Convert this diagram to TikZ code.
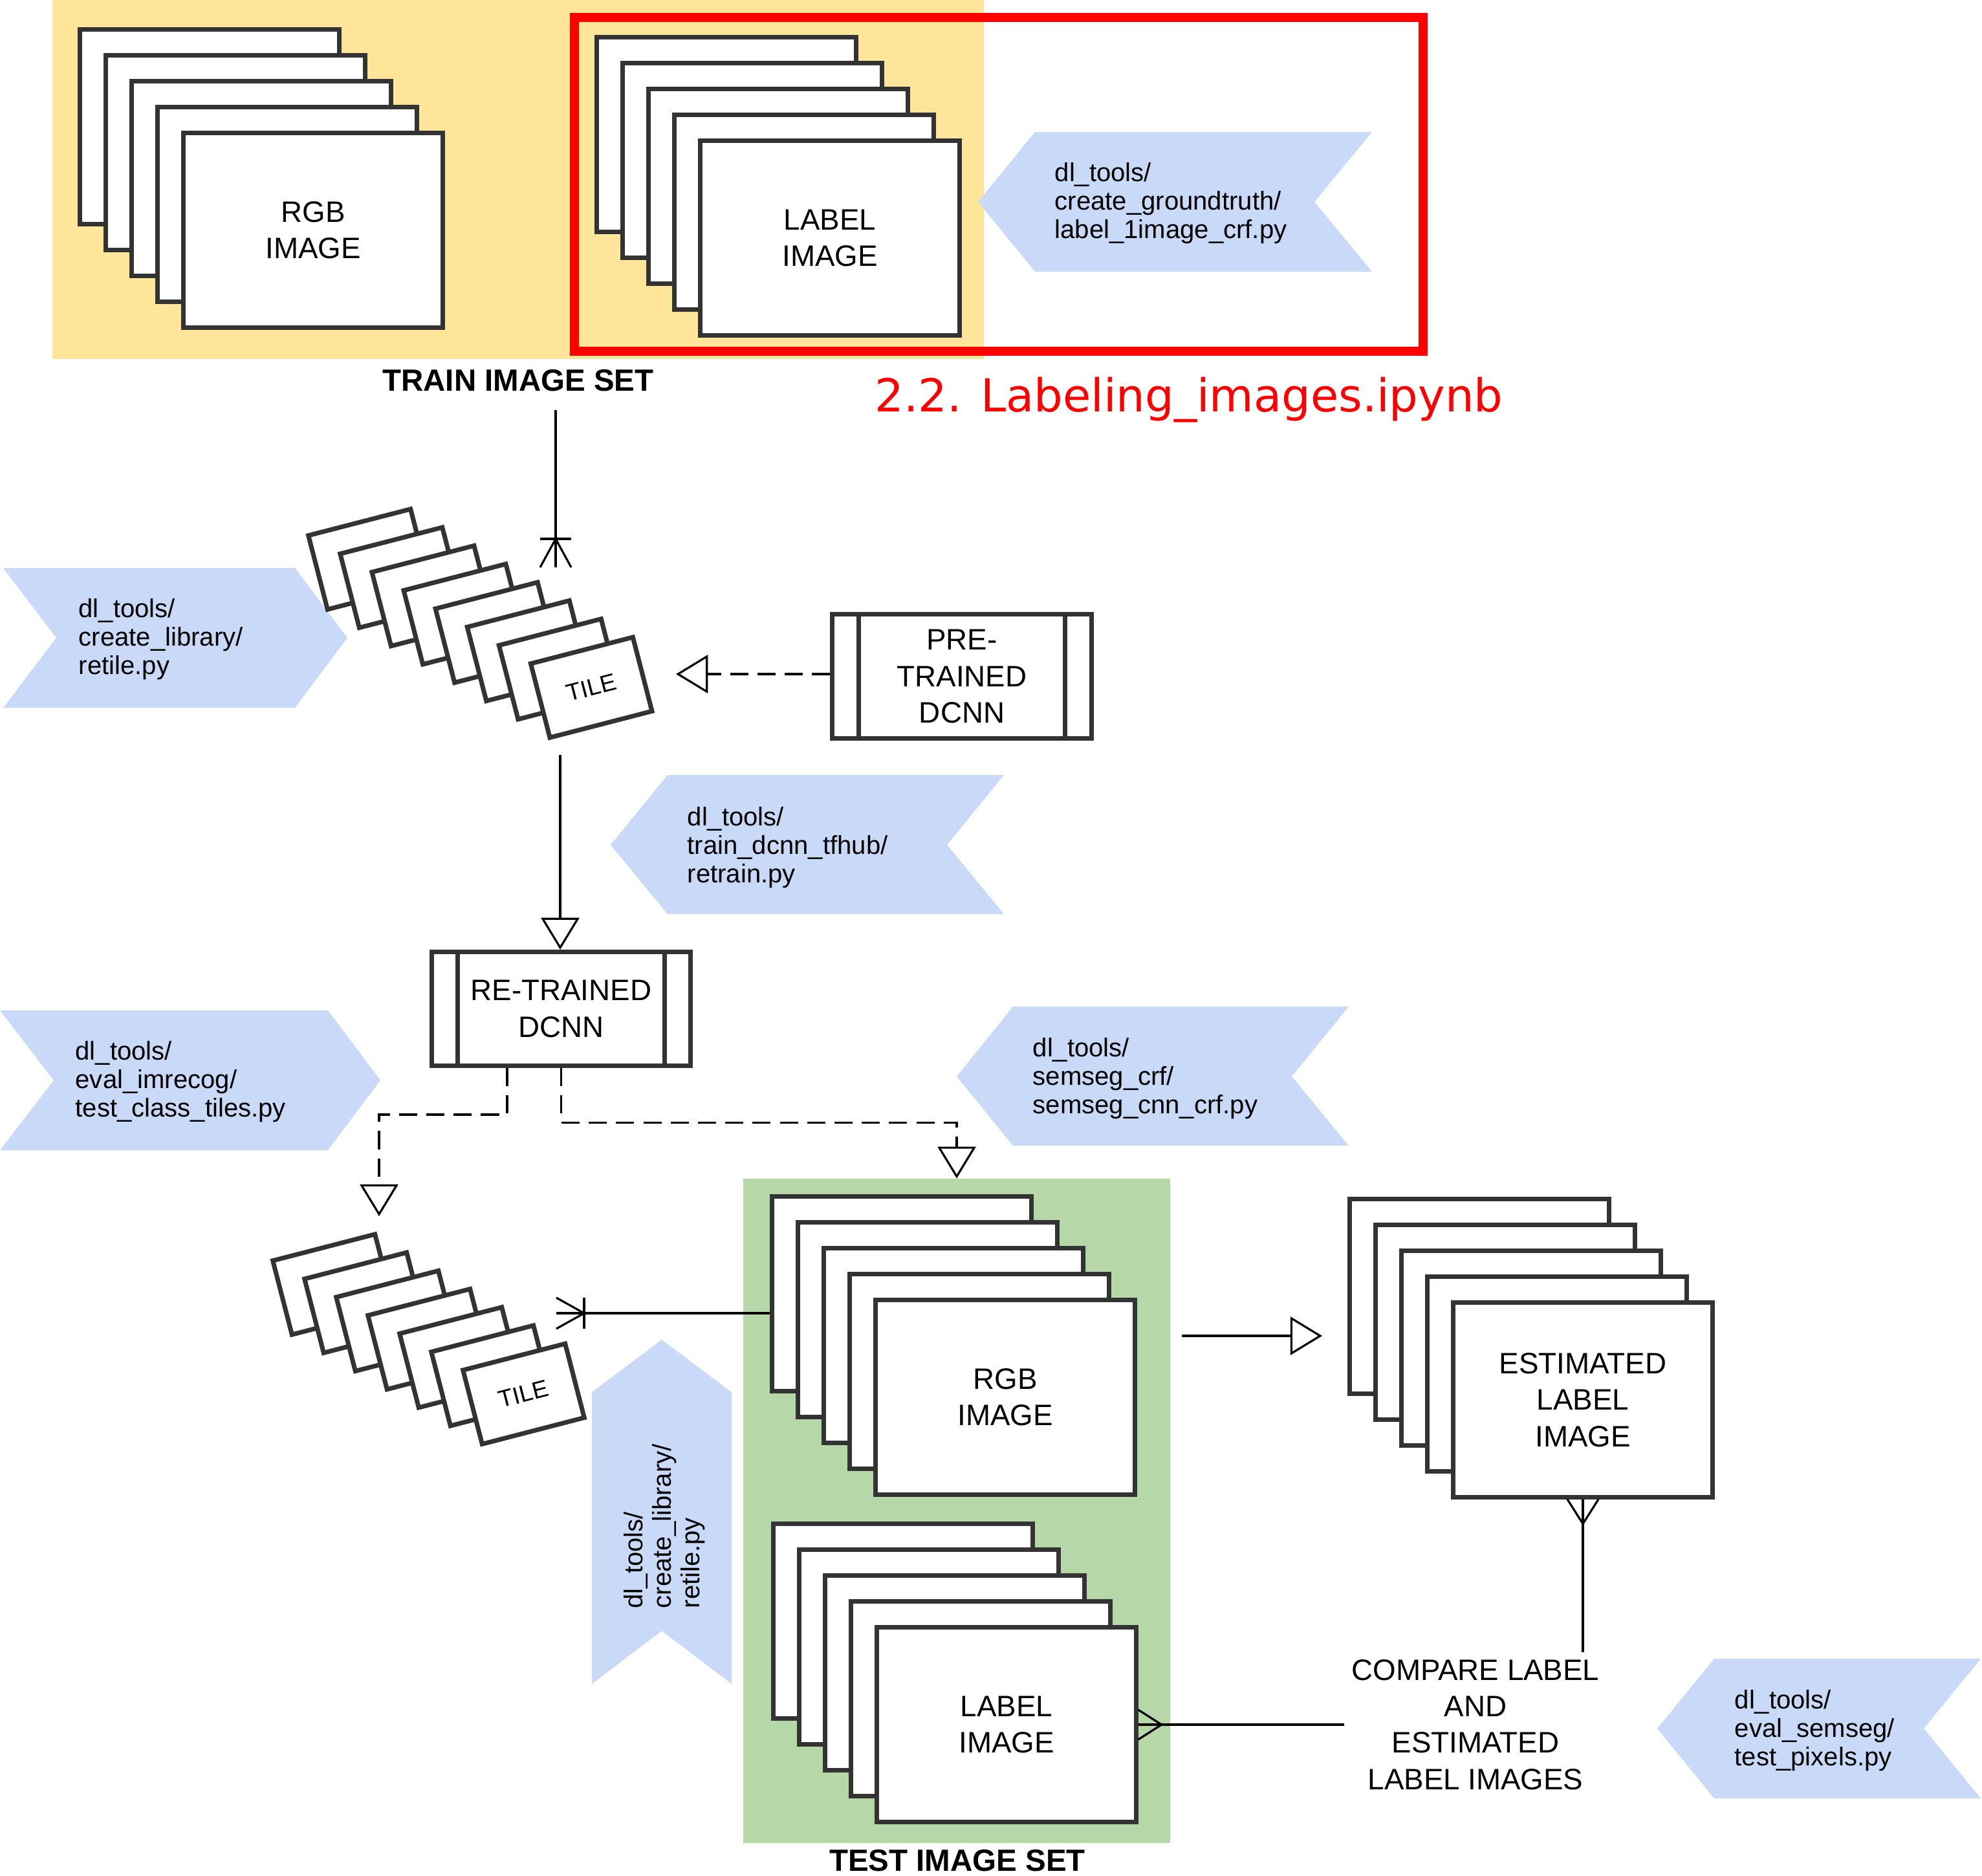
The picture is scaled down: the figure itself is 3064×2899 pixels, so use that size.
\documentclass[tikz,border=0pt]{standalone}
\usepackage{fontspec}
\setmainfont{Liberation Sans}
\newfontfamily\notefont{DejaVu Sans}
\usetikzlibrary{arrows.meta}

\definecolor{framegray}{HTML}{333333}
\definecolor{trainyellow}{HTML}{FFE599}
\definecolor{testgreen}{HTML}{B6D7A8}
\definecolor{toolblue}{HTML}{C9DAF8}

\begin{document}
\begin{tikzpicture}[line join=miter,x=0.01cm,y=-0.01cm,
  frame/.style={draw=framegray,fill=white,line width=2pt,minimum width=4cm,minimum height=3cm,inner sep=0pt,align=center,font=\fontsize{13}{16}\selectfont},
  tile/.style={draw=framegray,fill=white,line width=2pt,minimum width=1.63cm,minimum height=1.18cm,inner sep=0pt,rotate=14.5,font=\fontsize{10.5}{12}\selectfont},
  dcnn/.style={draw=framegray,fill=white,line width=2pt,minimum width=4cm,inner sep=0pt,align=center,font=\fontsize{13}{16}\selectfont},
  chev/.style={fill=toolblue},
  tooltext/.style={anchor=west,align=left,inner sep=0pt,font=\fontsize{11.4}{12.6}\selectfont},
  conn/.style={line width=0.9pt},
  flow/.style={conn,-{Triangle[open,length=14pt,width=16.8pt]}},
  ctrl/.style={flow,dash pattern=on 8pt off 4pt}]

\useasboundingbox (0,0) rectangle (3064,2899);

% image sets
\node[fill=trainyellow,minimum width=14.4cm,minimum height=5.55cm,inner sep=0pt,outer sep=0pt] (trainset) at (801,277.5) {};
\draw[red,line width=4pt] (888,27) rectangle (2200,543);
\node[fill=testgreen,minimum width=6.6cm,minimum height=10.27cm,inner sep=0pt,outer sep=0pt] (testset) at (1479,2335.5) {};

% script chevrons
\fill[chev] (1512,312) -- (1600,204) -- (2121,204) -- (2032,312) -- (2121,420) -- (1600,420) -- cycle;
\fill[chev] (5,878) -- (456,878) -- (537,986) -- (456,1094) -- (5,1094) -- (87,986) -- cycle;
\fill[chev] (944,1306) -- (1032,1198) -- (1552,1198) -- (1464,1306) -- (1552,1413) -- (1032,1413) -- cycle;
\fill[chev] (0,1562) -- (507,1562) -- (588,1670) -- (507,1778) -- (0,1778) -- (83,1670) -- cycle;
\fill[chev] (1479,1664) -- (1566,1556) -- (2085,1556) -- (1997,1664) -- (2085,1771) -- (1566,1771) -- cycle;
\fill[chev] (915,2152) -- (1023,2071) -- (1131,2152) -- (1131,2603) -- (1023,2521) -- (915,2603) -- cycle;
\fill[chev] (2562,2672) -- (2650,2564) -- (3062,2564) -- (2974,2672) -- (3062,2780) -- (2650,2780) -- cycle;
\node[tooltext] (crfgt) at (1630,314) {dl\_tools/\\create\_groundtruth/\\label\_1image\_crf.py};
\node[tooltext] (retile) at (121,988) {dl\_tools/\\create\_library/\\retile.py};
\node[tooltext] (retrain) at (1062,1310) {dl\_tools/\\train\_dcnn\_tfhub/\\retrain.py};
\node[tooltext] (imrecog) at (116,1672) {dl\_tools/\\eval\_imrecog/\\test\_class\_tiles.py};
\node[tooltext] (semseg) at (1596,1667) {dl\_tools/\\semseg\_crf/\\semseg\_cnn\_crf.py};
\node[tooltext,rotate=90] (retiletest) at (1027,2487) {dl\_tools/\\create\_library/\\retile.py};
\node[tooltext] (pixels) at (2681,2675) {dl\_tools/\\eval\_semseg/\\test\_pixels.py};

% stacks
\foreach \k in {1,...,4} \node[frame] (trgb\k) at (284+40*\k,156+40*\k) {};
\node[frame] (trgb5) at (484,356) {RGB\\IMAGE};
\foreach \k in {1,...,4} \node[frame] (tlab\k) at (1083+40*\k,168+40*\k) {};
\node[frame] (tlab5) at (1283,368) {LABEL\\IMAGE};
\foreach \k in {1,...,4} \node[frame] (srgb\k) at (1354+40*\k,1960+40*\k) {};
\node[frame] (srgb5) at (1554,2160) {RGB\\IMAGE};
\foreach \k in {1,...,4} \node[frame] (slab\k) at (1356+40*\k,2466+40*\k) {};
\node[frame] (slab5) at (1556,2666) {LABEL\\IMAGE};
\foreach \k in {1,...,4} \node[frame] (est\k) at (2247+40*\k,1964+40*\k) {};
\node[frame] (est5) at (2447,2164) {ESTIMATED\\LABEL\\IMAGE};

% tiles
\foreach \k in {0,...,6} \node[tile] (ttile\k) at (570.5+49.1*\k,864.5+28.3*\k) {};
\node[tile] (ttile7) at (914.2,1062.6) {TILE};
\foreach \k in {0,...,5} \node[tile] (btile\k) at (515.5+49*\k,1985.5+28.2*\k) {};
\node[tile] (btile6) at (809.5,2154.7) {TILE};

% networks
\node[dcnn,minimum height=1.92cm] (pre) at (1487,1045.5) {PRE-\\TRAINED\\DCNN};
\draw[framegray,line width=2pt] ([xshift=0.44cm]pre.north west) -- ([xshift=0.44cm]pre.south west);
\draw[framegray,line width=2pt] ([xshift=-0.44cm]pre.north east) -- ([xshift=-0.44cm]pre.south east);
\node[dcnn,minimum height=1.76cm] (re) at (867.5,1559.5) {RE-TRAINED\\DCNN};
\draw[framegray,line width=2pt] ([xshift=0.435cm]re.north west) -- ([xshift=0.435cm]re.south west);
\draw[framegray,line width=2pt] ([xshift=-0.435cm]re.north east) -- ([xshift=-0.435cm]re.south east);

\node[align=center,inner sep=3pt,font=\fontsize{13}{16}\selectfont] (compare) at (2281,2666) {COMPARE LABEL\\AND\\ESTIMATED\\LABEL IMAGES};

% connectors
\coordinate (trainout) at (859,634);
\coordinate (tilesin) at (859,877);
\draw[conn] (trainout) -- (tilesin);
\draw[conn] (tilesin) ++(-24,0) -- ++(24,-44) -- ++(24,44);
\draw[conn] (tilesin) ++(-24,-44) -- ++(48,0);

\coordinate (tilesright) at (1045,1042);
\draw[ctrl] (pre.west |- tilesright) -- (tilesright);

\coordinate (tilesout) at (866,1167);
\draw[flow] (tilesout) -- (tilesout |- re.north);

\coordinate (bend) at (784,1723);
\coordinate (lowtiles) at (586,1880);
\draw[ctrl] (re.south -| bend) -- (bend) -| (lowtiles);
\draw[ctrl] (re.south) -- ++(0,84) -| (testset.north);

\coordinate (lowtilesin) at (860,2030);
\draw[conn] (srgb1.west |- lowtilesin) -- (lowtilesin);
\draw[conn] (lowtilesin) ++(0,-24) -- ++(43,24) -- ++(-43,24);
\draw[conn] (lowtilesin) ++(43,-24) -- ++(0,48);

\coordinate (estfrom) at (1827,2065);
\coordinate (estto) at (2044,2065);
\draw[flow] (estfrom) -- (estto);

\draw[conn] (est5.south) -- (est5.south |- compare.north);
\draw[conn] (est5.south) ++(-24,0) -- ++(24,38) -- ++(24,-38);

\draw[conn] (compare.west) -- (compare.west -| slab5.east);
\draw[conn] (compare.west -| slab5.east) ++(0,-23) -- ++(36,23) -- ++(-36,23);

% titles
\node[anchor=base,font=\bfseries\fontsize{13.5}{16}\selectfont] (trainlbl) at (801,604) {TRAIN IMAGE SET};
\node[anchor=base,font=\bfseries\fontsize{13.5}{16}\selectfont] (testlbl) at (1480,2892) {TEST IMAGE SET};
\node[anchor=base,text=red,font=\notefont\fontsize{20}{24}\selectfont] (nbname) at (1838,636) {2.2. Labeling\_images.ipynb};
\end{tikzpicture}
\end{document}
